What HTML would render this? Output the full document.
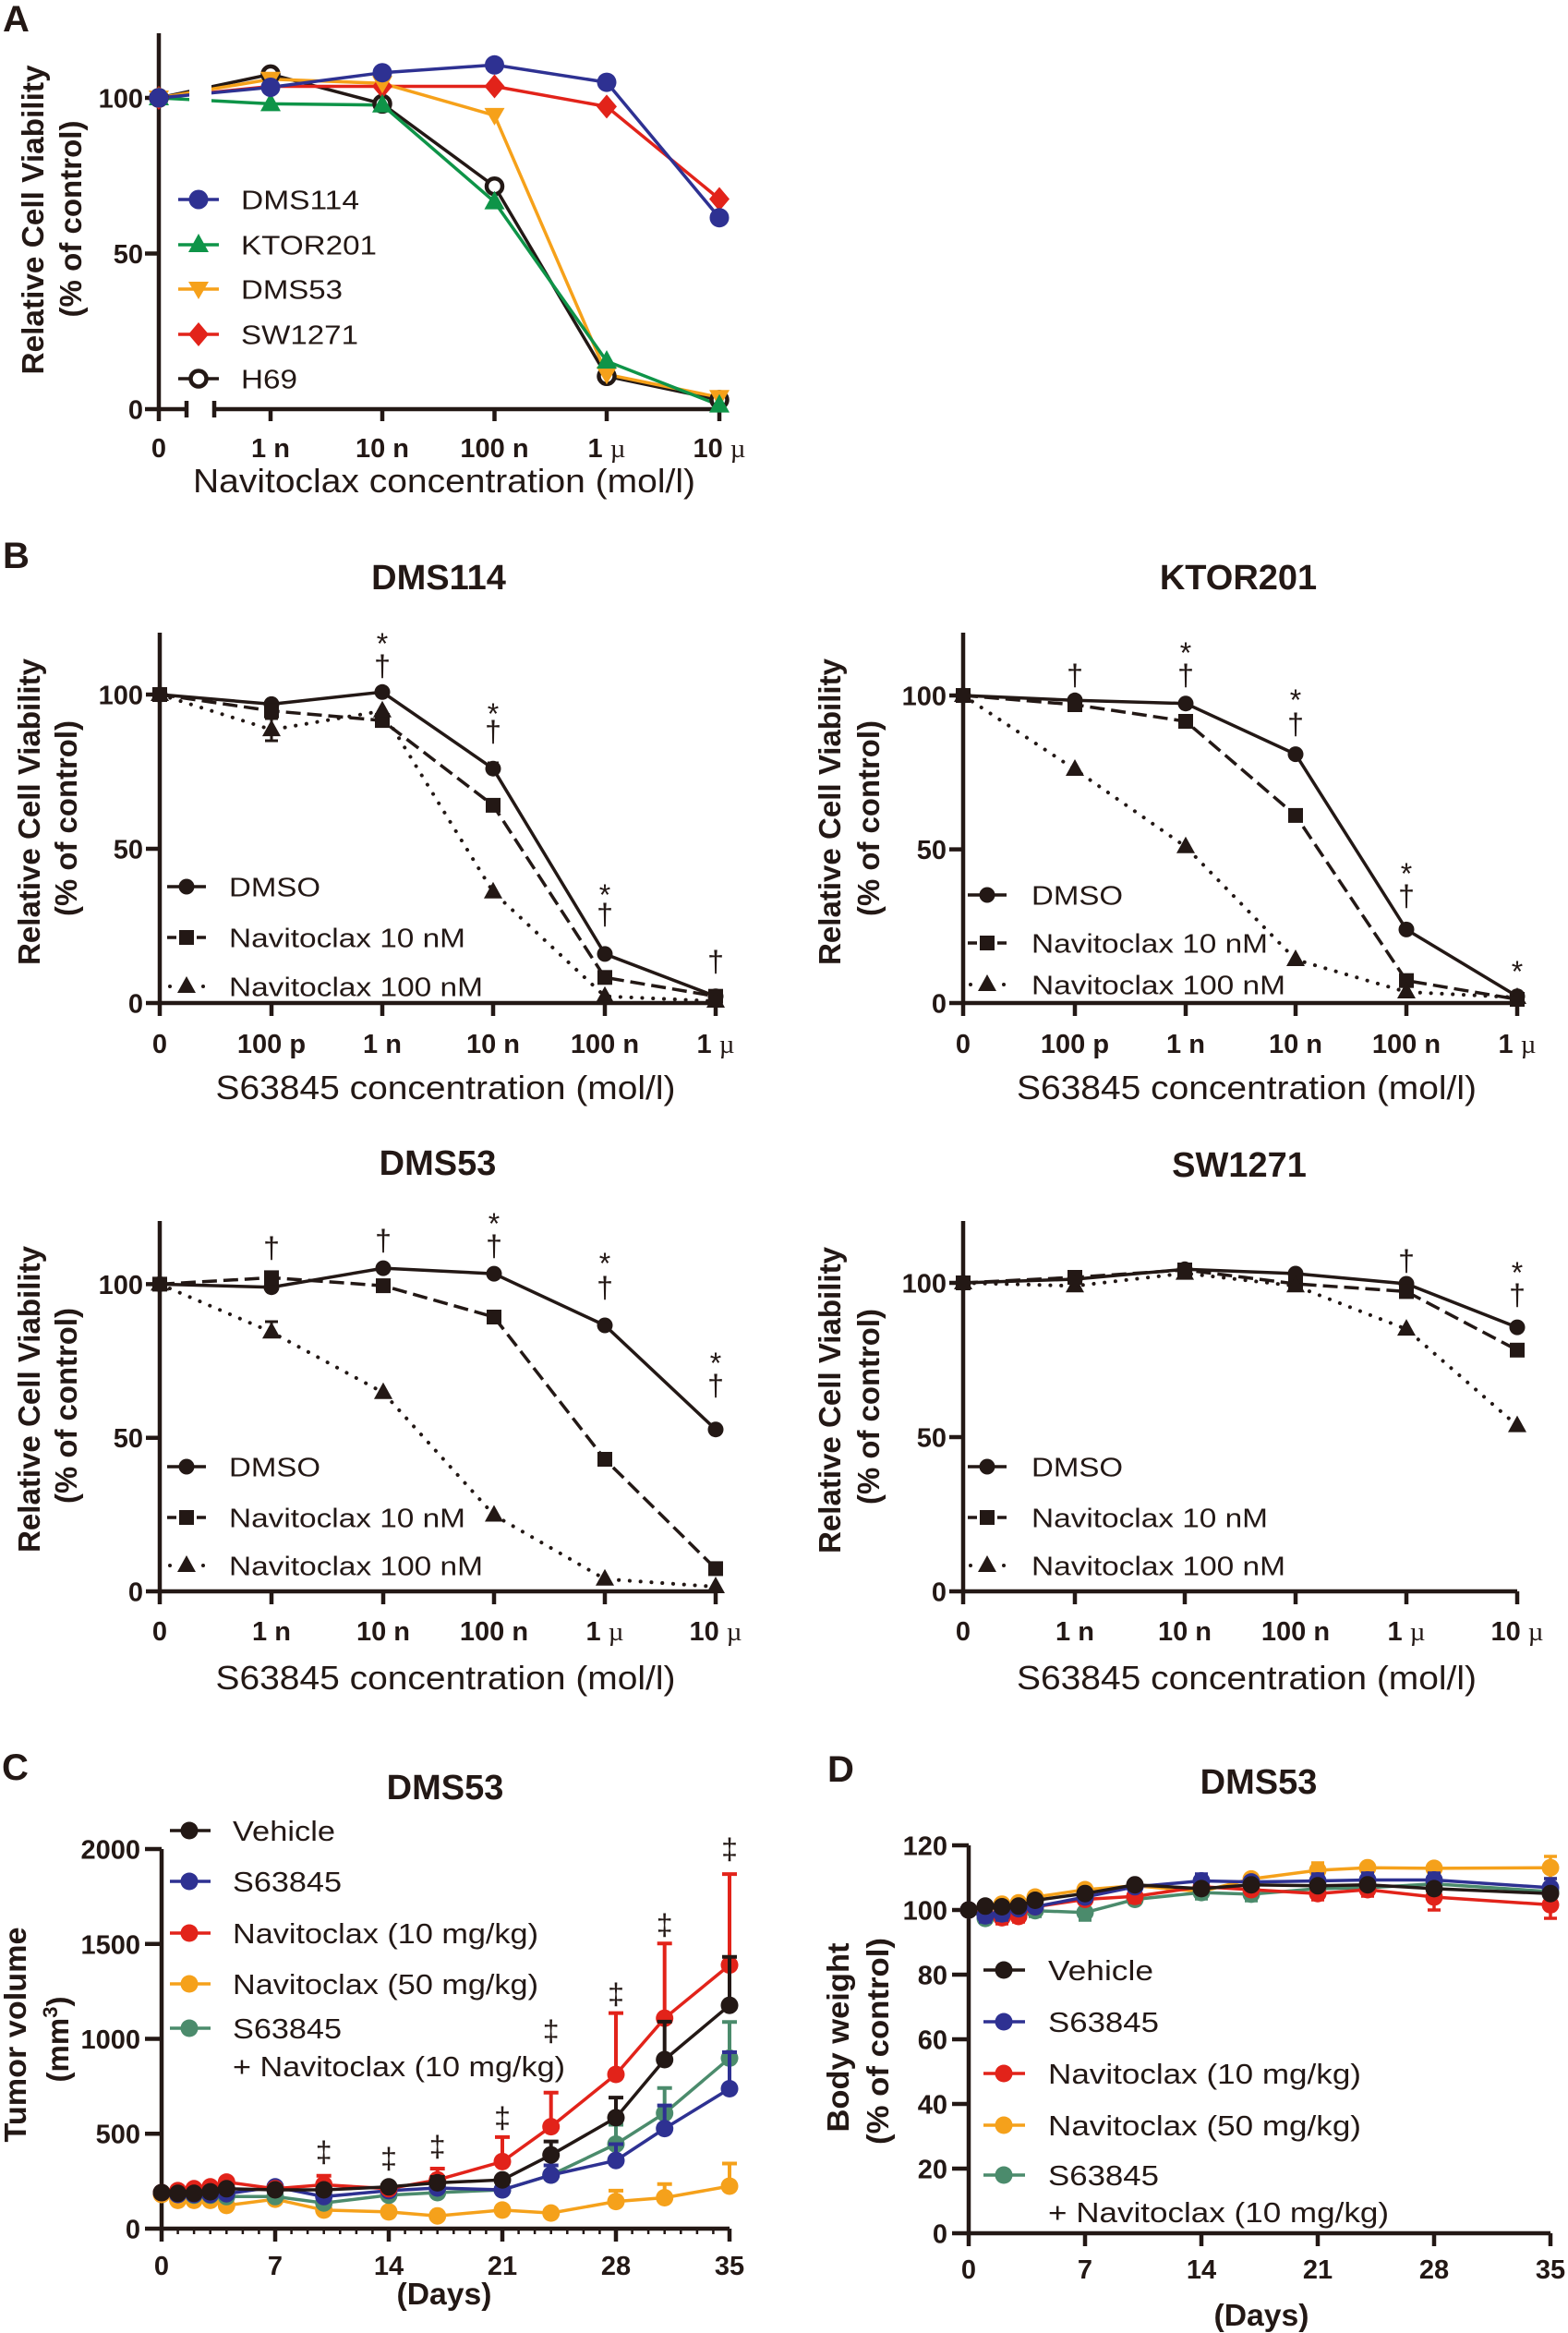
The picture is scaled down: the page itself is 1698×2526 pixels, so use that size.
<!DOCTYPE html>
<html><head><meta charset="utf-8">
<style>
html,body{margin:0;padding:0;background:#fff}
svg{display:block}
text{font-family:"Liberation Sans",Arial,sans-serif;fill:#231815}
.b{font-weight:bold}
.tk{font-size:29px;font-weight:bold}
.mu{font-family:"Liberation Serif",serif;font-weight:normal}
.ax{stroke:#231815;stroke-width:4.5;fill:none}
.mn{stroke:#231815;stroke-width:2.5;fill:none}
.ttl{font-size:38px;font-weight:bold}
.xt{font-size:36px}
.yl{font-size:33px;font-weight:bold}
.ann{font-size:32px}
</style></head><body>
<svg width="1698" height="2526" viewBox="0 0 1698 2526" xmlns="http://www.w3.org/2000/svg">
<defs>
<circle id="aB" r="10.5" fill="#2e3192"/>
<polygon id="aG" points="0,-12 11,8 -11,8" fill="#0e9448"/>
<polygon id="aY" points="0,11 -11,-8 11,-8" fill="#f6a11a"/>
<polygon id="aR" points="0,-13 11,0 0,13 -11,0" fill="#e2231a"/>
<circle id="aK" r="8.5" fill="#fff" stroke="#231815" stroke-width="4.5"/>
<circle id="bc" r="8.5" fill="#231815"/>
<rect id="bs" x="-8" y="-8" width="16" height="16" fill="#231815"/>
<polygon id="bt" points="0,-11 10,7 -10,7" fill="#231815"/>
<circle id="ck" r="9.5" fill="#231815"/>
<circle id="cb" r="9.5" fill="#2e3192"/>
<circle id="cr" r="9.5" fill="#e2231a"/>
<circle id="co" r="9.5" fill="#f5a11b"/>
<circle id="cg" r="9.5" fill="#4b8b6c"/>
</defs>
<rect width="1698" height="2526" fill="#fff"/>

<!-- ================= PANEL A ================= -->
<text x="3" y="34" class="b" font-size="40">A</text>
<path class="ax" d="M172,36V456 M157,106H172 M157,274.5H172 M157,443H202 M202,434V452 M232,434V452 M232,443H779 M293,443V456 M414,443V456 M535.5,443V456 M657,443V456 M779,443V456"/>
<g class="tk" text-anchor="end">
<text x="155" y="116.5">100</text><text x="155" y="285">50</text><text x="155" y="453.5">0</text>
</g>
<g class="tk" text-anchor="middle">
<text x="172" y="495">0</text>
<text x="293" y="495">1 n</text>
<text x="414" y="495">10 n</text>
<text x="535.5" y="495">100 n</text>
<text x="657" y="495">1 <tspan class="mu">µ</tspan></text>
<text x="779" y="495">10 <tspan class="mu">µ</tspan></text>
</g>
<text x="481" y="533" class="xt" text-anchor="middle" textLength="544" lengthAdjust="spacingAndGlyphs">Navitoclax concentration (mol/l)</text>
<text transform="translate(47,238) rotate(-90)" class="yl" text-anchor="middle" textLength="335" lengthAdjust="spacingAndGlyphs">Relative Cell Viability</text>
<text transform="translate(88,237) rotate(-90)" class="yl" text-anchor="middle" textLength="213" lengthAdjust="spacingAndGlyphs">(% of control)</text>
<g fill="none" stroke-width="3.5">
<polyline stroke="#231815" points="172,106 293,80.4 414,112.4 535.5,201.7 657,407.3 779,432.9"/>
<polyline stroke="#e2231a" points="172,106 293,93.5 414,93.5 535.5,93.5 657,115.4 779,215.5"/>
<polyline stroke="#f6a11a" points="172,106 293,85.8 414,90.2 535.5,124.9 657,405.3 779,430.2"/>
<polyline stroke="#0e9448" points="172,106 293,112.4 414,113.7 535.5,218.6 657,391.1 779,438.6"/>
<polyline stroke="#2e3192" points="172,106 293,94.5 414,78.7 535.5,70.3 657,89.1 779,235.7"/>
</g>
<rect x="205" y="40" width="24" height="395" fill="#fff"/>
<use href="#aK" x="172" y="106"/><use href="#aK" x="293" y="80.4"/><use href="#aK" x="414" y="112.4"/><use href="#aK" x="535.5" y="201.7"/><use href="#aK" x="657" y="407.3"/><use href="#aK" x="779" y="432.9"/>
<use href="#aR" x="172" y="106"/><use href="#aR" x="293" y="93.5"/><use href="#aR" x="414" y="93.5"/><use href="#aR" x="535.5" y="93.5"/><use href="#aR" x="657" y="115.4"/><use href="#aR" x="779" y="215.5"/>
<use href="#aY" x="172" y="106"/><use href="#aY" x="293" y="85.8"/><use href="#aY" x="414" y="90.2"/><use href="#aY" x="535.5" y="124.9"/><use href="#aY" x="657" y="405.3"/><use href="#aY" x="779" y="430.2"/>
<use href="#aG" x="172" y="106"/><use href="#aG" x="293" y="112.4"/><use href="#aG" x="414" y="113.7"/><use href="#aG" x="535.5" y="218.6"/><use href="#aG" x="657" y="391.1"/><use href="#aG" x="779" y="438.6"/>
<use href="#aB" x="172" y="106"/><use href="#aB" x="293" y="94.5"/><use href="#aB" x="414" y="78.7"/><use href="#aB" x="535.5" y="70.3"/><use href="#aB" x="657" y="89.1"/><use href="#aB" x="779" y="235.7"/>
<!-- legend A -->
<g stroke-width="3.5">
<line x1="193" y1="216" x2="237" y2="216" stroke="#2e3192"/>
<line x1="193" y1="265" x2="237" y2="265" stroke="#0e9448"/>
<line x1="193" y1="313" x2="237" y2="313" stroke="#f6a11a"/>
<line x1="193" y1="362" x2="237" y2="362" stroke="#e2231a"/>
<line x1="193" y1="410" x2="237" y2="410" stroke="#231815"/>
</g>
<use href="#aB" x="215" y="216"/><use href="#aG" x="215" y="265"/><use href="#aY" x="215" y="313"/><use href="#aR" x="215" y="362"/><use href="#aK" x="215" y="410"/>
<g font-size="29">
<text x="261" y="226.5" textLength="128" lengthAdjust="spacingAndGlyphs">DMS114</text>
<text x="261" y="275.5" textLength="147" lengthAdjust="spacingAndGlyphs">KTOR201</text>
<text x="261" y="323.5" textLength="110" lengthAdjust="spacingAndGlyphs">DMS53</text>
<text x="261" y="372.5" textLength="127" lengthAdjust="spacingAndGlyphs">SW1271</text>
<text x="261" y="420.5" textLength="61" lengthAdjust="spacingAndGlyphs">H69</text>
</g>

<!-- ================= PANEL B ================= -->
<text x="3" y="615" class="b" font-size="40">B</text>

<!-- B1 DMS114 -->
<text x="475" y="638" class="ttl" text-anchor="middle">DMS114</text>
<path class="ax" d="M173,685V1100 M158,752H173 M158,919H173 M158,1086H775 M294,1086V1100 M414,1086V1100 M534,1086V1100 M655,1086V1100 M775,1086V1100"/>
<g class="tk" text-anchor="end"><text x="155" y="762.5">100</text><text x="155" y="929.5">50</text><text x="155" y="1096.5">0</text></g>
<g class="tk" text-anchor="middle">
<text x="173" y="1140">0</text><text x="294" y="1140">100 p</text><text x="414" y="1140">1 n</text><text x="534" y="1140">10 n</text><text x="655" y="1140">100 n</text><text x="775" y="1140">1 <tspan class="mu">µ</tspan></text>
</g>
<text x="482.5" y="1190" class="xt" text-anchor="middle" textLength="498" lengthAdjust="spacingAndGlyphs">S63845 concentration (mol/l)</text>
<text transform="translate(43,879) rotate(-90)" class="yl" text-anchor="middle" textLength="332" lengthAdjust="spacingAndGlyphs">Relative Cell Viability</text>
<text transform="translate(83,886) rotate(-90)" class="yl" text-anchor="middle" textLength="212" lengthAdjust="spacingAndGlyphs">(% of control)</text>
<g fill="none" stroke="#231815">
<polyline stroke-width="3.5" points="173,752 294,762.4 414,749.3 534,832.2 655,1032.9 775,1078.7"/>
<polyline stroke-width="3.5" stroke-dasharray="16 7" points="173,752 294,769.7 414,780.1 534,871.9 655,1058.3 775,1078.7"/>
<polyline stroke-width="4" stroke-dasharray="0.1 11.7" stroke-linecap="round" points="173,752 294,790.1 414,769.7 534,965.8 655,1078.7 775,1084"/>
<path stroke-width="3" d="M294,778V802 M287,778H301 M287,802H301 M534,826V838 M528,826H540"/>
</g>
<use href="#bc" x="173" y="752"/><use href="#bc" x="294" y="762.4"/><use href="#bc" x="414" y="749.3"/><use href="#bc" x="534" y="832.2"/><use href="#bc" x="655" y="1032.9"/><use href="#bc" x="775" y="1078.7"/>
<use href="#bs" x="173" y="752"/><use href="#bs" x="294" y="769.7"/><use href="#bs" x="414" y="780.1"/><use href="#bs" x="534" y="871.9"/><use href="#bs" x="655" y="1058.3"/><use href="#bs" x="775" y="1078.7"/>
<use href="#bt" x="173" y="752"/><use href="#bt" x="294" y="790.1"/><use href="#bt" x="414" y="769.7"/><use href="#bt" x="534" y="965.8"/><use href="#bt" x="655" y="1078.7"/><use href="#bt" x="775" y="1084"/>
<g class="ann" text-anchor="middle">
<text x="414" y="708">*</text><text x="414" y="732">†</text>
<text x="534" y="784">*</text><text x="534" y="803">†</text>
<text x="655" y="980">*</text><text x="655" y="1001">†</text>
<text x="775" y="1052">†</text>
</g>
<g stroke="#231815" stroke-width="3.5" fill="#231815">
<line x1="181" y1="960" x2="223" y2="960"/>
<line x1="181" y1="1015" x2="191" y2="1015"/><line x1="213" y1="1015" x2="223" y2="1015"/>
<circle cx="184" cy="1068" r="2" stroke="none"/><circle cx="220" cy="1068" r="2" stroke="none"/>
</g>
<use href="#bc" x="202" y="960"/><use href="#bs" x="202" y="1015"/><use href="#bt" x="202" y="1068"/>
<g font-size="29">
<text x="248" y="970.5" textLength="99" lengthAdjust="spacingAndGlyphs">DMSO</text>
<text x="248" y="1025.5" textLength="256" lengthAdjust="spacingAndGlyphs">Navitoclax 10 nM</text>
<text x="248" y="1078.5" textLength="275" lengthAdjust="spacingAndGlyphs">Navitoclax 100 nM</text>
</g>

<!-- B2 KTOR201 -->
<text x="1341" y="638" class="ttl" text-anchor="middle">KTOR201</text>
<path class="ax" d="M1043,685V1100 M1028,753H1043 M1028,919.6H1043 M1028,1086H1643 M1164,1086V1100 M1284,1086V1100 M1403,1086V1100 M1523,1086V1100 M1643,1086V1100"/>
<g class="tk" text-anchor="end"><text x="1025" y="763.5">100</text><text x="1025" y="930">50</text><text x="1025" y="1096.5">0</text></g>
<g class="tk" text-anchor="middle">
<text x="1043" y="1140">0</text><text x="1164" y="1140">100 p</text><text x="1284" y="1140">1 n</text><text x="1403" y="1140">10 n</text><text x="1523" y="1140">100 n</text><text x="1643" y="1140">1 <tspan class="mu">µ</tspan></text>
</g>
<text x="1350" y="1190" class="xt" text-anchor="middle" textLength="498" lengthAdjust="spacingAndGlyphs">S63845 concentration (mol/l)</text>
<text transform="translate(910,879) rotate(-90)" class="yl" text-anchor="middle" textLength="332" lengthAdjust="spacingAndGlyphs">Relative Cell Viability</text>
<text transform="translate(952,886) rotate(-90)" class="yl" text-anchor="middle" textLength="212" lengthAdjust="spacingAndGlyphs">(% of control)</text>
<g fill="none" stroke="#231815">
<polyline stroke-width="3.5" points="1043,753 1164,758.3 1284,761.7 1403,816.6 1523,1006.4 1643,1078.7"/>
<polyline stroke-width="3.5" stroke-dasharray="16 7" points="1043,753 1164,763 1284,781 1403,882.9 1523,1061.7 1643,1082"/>
<polyline stroke-width="4" stroke-dasharray="0.1 11.7" stroke-linecap="round" points="1043,753 1164,833 1284,916.8 1403,1039 1523,1074 1643,1080"/>
</g>
<use href="#bc" x="1043" y="753"/><use href="#bc" x="1164" y="758.3"/><use href="#bc" x="1284" y="761.7"/><use href="#bc" x="1403" y="816.6"/><use href="#bc" x="1523" y="1006.4"/><use href="#bc" x="1643" y="1078.7"/>
<use href="#bs" x="1043" y="753"/><use href="#bs" x="1164" y="763"/><use href="#bs" x="1284" y="781"/><use href="#bs" x="1403" y="882.9"/><use href="#bs" x="1523" y="1061.7"/><use href="#bs" x="1643" y="1082"/>
<use href="#bt" x="1043" y="753"/><use href="#bt" x="1164" y="833"/><use href="#bt" x="1284" y="916.8"/><use href="#bt" x="1403" y="1039"/><use href="#bt" x="1523" y="1074"/><use href="#bt" x="1643" y="1080"/>
<g class="ann" text-anchor="middle">
<text x="1164" y="742">†</text>
<text x="1284" y="718">*</text><text x="1284" y="742">†</text>
<text x="1403" y="769">*</text><text x="1403" y="795">†</text>
<text x="1523" y="957">*</text><text x="1523" y="981">†</text>
<text x="1643" y="1063">*</text>
</g>
<g stroke="#231815" stroke-width="3.5" fill="#231815">
<line x1="1048" y1="969" x2="1090" y2="969"/>
<line x1="1048" y1="1021" x2="1058" y2="1021"/><line x1="1080" y1="1021" x2="1090" y2="1021"/>
<circle cx="1051" cy="1066" r="2" stroke="none"/><circle cx="1087" cy="1066" r="2" stroke="none"/>
</g>
<use href="#bc" x="1069" y="969"/><use href="#bs" x="1069" y="1021"/><use href="#bt" x="1069" y="1066"/>
<g font-size="29">
<text x="1117" y="979.5" textLength="99" lengthAdjust="spacingAndGlyphs">DMSO</text>
<text x="1117" y="1031.5" textLength="256" lengthAdjust="spacingAndGlyphs">Navitoclax 10 nM</text>
<text x="1117" y="1076.5" textLength="275" lengthAdjust="spacingAndGlyphs">Navitoclax 100 nM</text>
</g>

<!-- B3 DMS53 -->
<text x="474" y="1272" class="ttl" text-anchor="middle">DMS53</text>
<path class="ax" d="M173,1322V1737 M158,1390.4H173 M158,1556.7H173 M158,1723H775 M294,1723V1737 M415,1723V1737 M535,1723V1737 M655,1723V1737 M775,1723V1737"/>
<g class="tk" text-anchor="end"><text x="155" y="1401">100</text><text x="155" y="1567">50</text><text x="155" y="1733.5">0</text></g>
<g class="tk" text-anchor="middle">
<text x="173" y="1776">0</text><text x="294" y="1776">1 n</text><text x="415" y="1776">10 n</text><text x="535" y="1776">100 n</text><text x="655" y="1776">1 <tspan class="mu">µ</tspan></text><text x="775" y="1776">10 <tspan class="mu">µ</tspan></text>
</g>
<text x="482.5" y="1829" class="xt" text-anchor="middle" textLength="498" lengthAdjust="spacingAndGlyphs">S63845 concentration (mol/l)</text>
<text transform="translate(43,1515) rotate(-90)" class="yl" text-anchor="middle" textLength="332" lengthAdjust="spacingAndGlyphs">Relative Cell Viability</text>
<text transform="translate(83,1522) rotate(-90)" class="yl" text-anchor="middle" textLength="212" lengthAdjust="spacingAndGlyphs">(% of control)</text>
<g fill="none" stroke="#231815">
<polyline stroke-width="3.5" points="173,1390.4 294,1393.7 415,1373.1 535,1379.1 655,1435 775,1547.7"/>
<polyline stroke-width="3.5" stroke-dasharray="16 7" points="173,1390.4 294,1383.4 415,1392.1 535,1426 655,1580 775,1698.4"/>
<polyline stroke-width="4" stroke-dasharray="0.1 11.7" stroke-linecap="round" points="173,1390.4 294,1442.3 415,1507.8 535,1640.5 655,1709.7 775,1718"/>
<path stroke-width="3" d="M294,1431V1445 M287,1431H301"/>
</g>
<use href="#bc" x="173" y="1390.4"/><use href="#bc" x="294" y="1393.7"/><use href="#bc" x="415" y="1373.1"/><use href="#bc" x="535" y="1379.1"/><use href="#bc" x="655" y="1435"/><use href="#bc" x="775" y="1547.7"/>
<use href="#bs" x="173" y="1390.4"/><use href="#bs" x="294" y="1383.4"/><use href="#bs" x="415" y="1392.1"/><use href="#bs" x="535" y="1426"/><use href="#bs" x="655" y="1580"/><use href="#bs" x="775" y="1698.4"/>
<use href="#bt" x="173" y="1390.4"/><use href="#bt" x="294" y="1442.3"/><use href="#bt" x="415" y="1507.8"/><use href="#bt" x="535" y="1640.5"/><use href="#bt" x="655" y="1709.7"/><use href="#bt" x="775" y="1718"/>
<g class="ann" text-anchor="middle">
<text x="294" y="1362">†</text>
<text x="415" y="1354">†</text>
<text x="535" y="1336">*</text><text x="535" y="1360">†</text>
<text x="655" y="1379">*</text><text x="655" y="1405">†</text>
<text x="775" y="1487">*</text><text x="775" y="1511">†</text>
</g>
<g stroke="#231815" stroke-width="3.5" fill="#231815">
<line x1="181" y1="1588" x2="223" y2="1588"/>
<line x1="181" y1="1643" x2="191" y2="1643"/><line x1="213" y1="1643" x2="223" y2="1643"/>
<circle cx="184" cy="1695" r="2" stroke="none"/><circle cx="220" cy="1695" r="2" stroke="none"/>
</g>
<use href="#bc" x="202" y="1588"/><use href="#bs" x="202" y="1643"/><use href="#bt" x="202" y="1695"/>
<g font-size="29">
<text x="248" y="1598.5" textLength="99" lengthAdjust="spacingAndGlyphs">DMSO</text>
<text x="248" y="1653.5" textLength="256" lengthAdjust="spacingAndGlyphs">Navitoclax 10 nM</text>
<text x="248" y="1705.5" textLength="275" lengthAdjust="spacingAndGlyphs">Navitoclax 100 nM</text>
</g>

<!-- B4 SW1271 -->
<text x="1342" y="1274" class="ttl" text-anchor="middle">SW1271</text>
<path class="ax" d="M1043,1322V1737 M1028,1389H1043 M1028,1556H1043 M1028,1723H1643 M1164,1723V1737 M1283,1723V1737 M1403,1723V1737 M1523,1723V1737 M1643,1723V1737"/>
<g class="tk" text-anchor="end"><text x="1025" y="1399.5">100</text><text x="1025" y="1566.5">50</text><text x="1025" y="1733.5">0</text></g>
<g class="tk" text-anchor="middle">
<text x="1043" y="1776">0</text><text x="1164" y="1776">1 n</text><text x="1283" y="1776">10 n</text><text x="1403" y="1776">100 n</text><text x="1523" y="1776">1 <tspan class="mu">µ</tspan></text><text x="1643" y="1776">10 <tspan class="mu">µ</tspan></text>
</g>
<text x="1350" y="1829" class="xt" text-anchor="middle" textLength="498" lengthAdjust="spacingAndGlyphs">S63845 concentration (mol/l)</text>
<text transform="translate(910,1516) rotate(-90)" class="yl" text-anchor="middle" textLength="332" lengthAdjust="spacingAndGlyphs">Relative Cell Viability</text>
<text transform="translate(952,1523) rotate(-90)" class="yl" text-anchor="middle" textLength="212" lengthAdjust="spacingAndGlyphs">(% of control)</text>
<g fill="none" stroke="#231815">
<polyline stroke-width="3.5" points="1043,1389 1164,1385 1283,1374.3 1403,1379 1523,1390 1643,1437.1"/>
<polyline stroke-width="3.5" stroke-dasharray="16 7" points="1043,1389 1164,1383 1283,1375 1403,1390 1523,1398.4 1643,1461.8"/>
<polyline stroke-width="4" stroke-dasharray="0.1 11.7" stroke-linecap="round" points="1043,1389 1164,1392.3 1283,1378.6 1403,1392.3 1523,1439.1 1643,1543.6"/>
</g>
<use href="#bc" x="1043" y="1389"/><use href="#bc" x="1164" y="1385"/><use href="#bc" x="1283" y="1374.3"/><use href="#bc" x="1403" y="1379"/><use href="#bc" x="1523" y="1390"/><use href="#bc" x="1643" y="1437.1"/>
<use href="#bs" x="1043" y="1389"/><use href="#bs" x="1164" y="1383"/><use href="#bs" x="1283" y="1375"/><use href="#bs" x="1403" y="1390"/><use href="#bs" x="1523" y="1398.4"/><use href="#bs" x="1643" y="1461.8"/>
<use href="#bt" x="1043" y="1389"/><use href="#bt" x="1164" y="1392.3"/><use href="#bt" x="1283" y="1378.6"/><use href="#bt" x="1403" y="1392.3"/><use href="#bt" x="1523" y="1439.1"/><use href="#bt" x="1643" y="1543.6"/>
<g class="ann" text-anchor="middle">
<text x="1523" y="1376">†</text>
<text x="1643" y="1389">*</text><text x="1643" y="1413">†</text>
</g>
<g stroke="#231815" stroke-width="3.5" fill="#231815">
<line x1="1048" y1="1588" x2="1090" y2="1588"/>
<line x1="1048" y1="1643" x2="1058" y2="1643"/><line x1="1080" y1="1643" x2="1090" y2="1643"/>
<circle cx="1051" cy="1695" r="2" stroke="none"/><circle cx="1087" cy="1695" r="2" stroke="none"/>
</g>
<use href="#bc" x="1069" y="1588"/><use href="#bs" x="1069" y="1643"/><use href="#bt" x="1069" y="1695"/>
<g font-size="29">
<text x="1117" y="1598.5" textLength="99" lengthAdjust="spacingAndGlyphs">DMSO</text>
<text x="1117" y="1653.5" textLength="256" lengthAdjust="spacingAndGlyphs">Navitoclax 10 nM</text>
<text x="1117" y="1705.5" textLength="275" lengthAdjust="spacingAndGlyphs">Navitoclax 100 nM</text>
</g>

<!-- ================= PANEL C ================= -->
<text x="2" y="1927" class="b" font-size="40">C</text>
<text x="482" y="1948" class="ttl" text-anchor="middle">DMS53</text>
<path class="ax" d="M175,2002V2427 M157,2002H175 M157,2104.8H175 M157,2207.5H175 M157,2310.2H175 M157,2413H790 M298,2413V2427 M421,2413V2427 M544,2413V2427 M667,2413V2427 M790,2413V2427"/>
<path class="mn" d="M192.6,2413v6 M210.1,2413v6 M227.7,2413v6 M245.3,2413v6 M262.9,2413v6 M280.4,2413v6 M315.6,2413v6 M333.1,2413v6 M350.7,2413v6 M368.3,2413v6 M385.9,2413v6 M403.4,2413v6 M438.6,2413v6 M456.1,2413v6 M473.7,2413v6 M491.3,2413v6 M508.9,2413v6 M526.4,2413v6 M561.6,2413v6 M579.1,2413v6 M596.7,2413v6 M614.3,2413v6 M631.9,2413v6 M649.4,2413v6 M684.6,2413v6 M702.1,2413v6 M719.7,2413v6 M737.3,2413v6 M754.9,2413v6 M772.4,2413v6"/>
<g class="tk" text-anchor="end">
<text x="152" y="2012.5">2000</text><text x="152" y="2115.3">1500</text><text x="152" y="2218">1000</text><text x="152" y="2320.7">500</text><text x="152" y="2423.5">0</text>
</g>
<g class="tk" text-anchor="middle">
<text x="175" y="2463">0</text><text x="298" y="2463">7</text><text x="421" y="2463">14</text><text x="544" y="2463">21</text><text x="667" y="2463">28</text><text x="790" y="2463">35</text>
</g>
<text x="481" y="2495" class="b" font-size="33" text-anchor="middle" textLength="103" lengthAdjust="spacingAndGlyphs">(Days)</text>
<text transform="translate(28,2203) rotate(-90)" class="yl" text-anchor="middle" textLength="233" lengthAdjust="spacingAndGlyphs">Tumor volume</text>
<text transform="translate(74,2208) rotate(-90)" class="yl" text-anchor="middle">(mm<tspan baseline-shift="super" font-size="22">3</tspan>)</text>
<!-- orange -->
<g fill="none" stroke="#f5a11b" stroke-width="3.5">
<polyline points="175,2376 192.6,2382.4 210.1,2382.4 227.7,2382.4 245.3,2387.9 298,2381.1 350.7,2392.9 421,2394.9 473.7,2399.2 544,2392.9 596.7,2396.1 667,2383.6 719.7,2379.5 790,2367"/>
<path stroke-width="4" d="M667,2383.6V2371.9 M659,2371.9H675 M719.7,2379.5V2364.7 M711.7,2364.7H727.7 M790,2367V2342.5 M782,2342.5H798"/>
</g>
<use href="#co" x="175" y="2376"/><use href="#co" x="192.6" y="2382.4"/><use href="#co" x="210.1" y="2382.4"/><use href="#co" x="227.7" y="2382.4"/><use href="#co" x="245.3" y="2387.9"/><use href="#co" x="298" y="2381.1"/><use href="#co" x="350.7" y="2392.9"/><use href="#co" x="421" y="2394.9"/><use href="#co" x="473.7" y="2399.2"/><use href="#co" x="544" y="2392.9"/><use href="#co" x="596.7" y="2396.1"/><use href="#co" x="667" y="2383.6"/><use href="#co" x="719.7" y="2379.5"/><use href="#co" x="790" y="2367"/>
<!-- green -->
<g fill="none" stroke="#4b8b6c" stroke-width="3.5">
<polyline points="175,2374 192.6,2376 210.1,2376.8 227.7,2376.8 245.3,2378.3 298,2378.3 350.7,2385.2 421,2376.8 473.7,2374 544,2371 596.7,2355 667,2321.5 719.7,2288 790,2228.4"/>
<path stroke-width="4" d="M667,2321.5V2300.5 M659,2300.5H675 M719.7,2288V2260.7 M711.7,2260.7H727.7 M790,2228.4V2189.3 M782,2189.3H798"/>
</g>
<use href="#cg" x="175" y="2374"/><use href="#cg" x="192.6" y="2376"/><use href="#cg" x="210.1" y="2376.8"/><use href="#cg" x="227.7" y="2376.8"/><use href="#cg" x="245.3" y="2378.3"/><use href="#cg" x="298" y="2378.3"/><use href="#cg" x="350.7" y="2385.2"/><use href="#cg" x="421" y="2376.8"/><use href="#cg" x="473.7" y="2374"/><use href="#cg" x="544" y="2371"/><use href="#cg" x="596.7" y="2355"/><use href="#cg" x="667" y="2321.5"/><use href="#cg" x="719.7" y="2288"/><use href="#cg" x="790" y="2228.4"/>
<!-- blue -->
<g fill="none" stroke="#2e3192" stroke-width="3.5">
<polyline points="175,2374 192.6,2376 210.1,2376 227.7,2376 245.3,2375.2 298,2367.8 350.7,2378.3 421,2371.9 473.7,2369 544,2371 596.7,2355 667,2339.2 719.7,2304.6 790,2261.5"/>
<path stroke-width="4" d="M596.7,2355V2344.5 M588.7,2344.5H604.7 M667,2339.2V2321.5 M659,2321.5H675 M719.7,2304.6V2279.6 M711.7,2279.6H727.7 M790,2261.5V2222 M782,2222H798"/>
</g>
<use href="#cb" x="175" y="2374"/><use href="#cb" x="192.6" y="2376"/><use href="#cb" x="210.1" y="2376"/><use href="#cb" x="227.7" y="2376"/><use href="#cb" x="245.3" y="2375.2"/><use href="#cb" x="298" y="2367.8"/><use href="#cb" x="350.7" y="2378.3"/><use href="#cb" x="421" y="2371.9"/><use href="#cb" x="473.7" y="2369"/><use href="#cb" x="544" y="2371"/><use href="#cb" x="596.7" y="2355"/><use href="#cb" x="667" y="2339.2"/><use href="#cb" x="719.7" y="2304.6"/><use href="#cb" x="790" y="2261.5"/>
<!-- red -->
<g fill="none" stroke="#e2231a" stroke-width="3.5">
<polyline points="175,2374 192.6,2371.9 210.1,2369.8 227.7,2367.8 245.3,2362.6 298,2369.8 350.7,2365.5 421,2369.8 473.7,2360.2 544,2340.4 596.7,2302.6 667,2246 719.7,2185.2 790,2127.6"/>
<path stroke-width="4" d="M350.7,2365.5V2355.8 M342.7,2355.8H358.7 M473.7,2360.2V2348 M465.7,2348H481.7 M544,2340.4V2313.9 M536,2313.9H552 M596.7,2302.6V2265.8 M588.7,2265.8H604.7 M667,2246V2179.6 M659,2179.6H675 M719.7,2185.2V2104.2 M711.7,2104.2H727.7 M790,2127.6V2029.1 M782,2029.1H798"/>
</g>
<use href="#cr" x="175" y="2374"/><use href="#cr" x="192.6" y="2371.9"/><use href="#cr" x="210.1" y="2369.8"/><use href="#cr" x="227.7" y="2367.8"/><use href="#cr" x="245.3" y="2362.6"/><use href="#cr" x="298" y="2369.8"/><use href="#cr" x="350.7" y="2365.5"/><use href="#cr" x="421" y="2369.8"/><use href="#cr" x="473.7" y="2360.2"/><use href="#cr" x="544" y="2340.4"/><use href="#cr" x="596.7" y="2302.6"/><use href="#cr" x="667" y="2246"/><use href="#cr" x="719.7" y="2185.2"/><use href="#cr" x="790" y="2127.6"/>
<!-- black -->
<g fill="none" stroke="#231815" stroke-width="3.5">
<polyline points="175,2374 192.6,2374.8 210.1,2374.8 227.7,2373.1 245.3,2369.8 298,2371 350.7,2371 421,2367.8 473.7,2363.4 544,2360.2 596.7,2333.2 667,2292.9 719.7,2230 790,2171.2"/>
<path stroke-width="4" d="M473.7,2363.4V2357 M465.7,2357H481.7 M596.7,2333.2V2318.6 M588.7,2318.6H604.7 M667,2292.9V2271.1 M659,2271.1H675 M719.7,2230V2188.9 M711.7,2188.9H727.7 M790,2171.2V2118.8 M782,2118.8H798"/>
</g>
<use href="#ck" x="175" y="2374"/><use href="#ck" x="192.6" y="2374.8"/><use href="#ck" x="210.1" y="2374.8"/><use href="#ck" x="227.7" y="2373.1"/><use href="#ck" x="245.3" y="2369.8"/><use href="#ck" x="298" y="2371"/><use href="#ck" x="350.7" y="2371"/><use href="#ck" x="421" y="2367.8"/><use href="#ck" x="473.7" y="2363.4"/><use href="#ck" x="544" y="2360.2"/><use href="#ck" x="596.7" y="2333.2"/><use href="#ck" x="667" y="2292.9"/><use href="#ck" x="719.7" y="2230"/><use href="#ck" x="790" y="2171.2"/>
<g class="ann" text-anchor="middle" font-size="33">
<text x="350.7" y="2341">‡</text><text x="421" y="2348">‡</text><text x="473.7" y="2335">‡</text><text x="544" y="2304">‡</text><text x="596.7" y="2210">‡</text><text x="667" y="2170">‡</text><text x="719.7" y="2095">‡</text><text x="790" y="2013">‡</text>
</g>
<!-- legend C -->
<g stroke-width="3.5">
<line x1="184" y1="1982" x2="228" y2="1982" stroke="#231815"/>
<line x1="184" y1="2037" x2="228" y2="2037" stroke="#2e3192"/>
<line x1="184" y1="2093" x2="228" y2="2093" stroke="#e2231a"/>
<line x1="184" y1="2148" x2="228" y2="2148" stroke="#f5a11b"/>
<line x1="184" y1="2196" x2="228" y2="2196" stroke="#4b8b6c"/>
</g>
<use href="#ck" x="205" y="1982"/><use href="#cb" x="205" y="2037"/><use href="#cr" x="205" y="2093"/><use href="#co" x="205" y="2148"/><use href="#cg" x="205" y="2196"/>
<g font-size="31">
<text x="252" y="1993" textLength="111" lengthAdjust="spacingAndGlyphs">Vehicle</text>
<text x="252" y="2048" textLength="118" lengthAdjust="spacingAndGlyphs">S63845</text>
<text x="252" y="2104" textLength="331" lengthAdjust="spacingAndGlyphs">Navitoclax (10 mg/kg)</text>
<text x="252" y="2159" textLength="331" lengthAdjust="spacingAndGlyphs">Navitoclax (50 mg/kg)</text>
<text x="252" y="2207" textLength="118" lengthAdjust="spacingAndGlyphs">S63845</text>
<text x="252" y="2248" textLength="360" lengthAdjust="spacingAndGlyphs">+ Navitoclax (10 mg/kg)</text>
</g>

<!-- ================= PANEL D ================= -->
<text x="896" y="1929" class="b" font-size="40">D</text>
<text x="1363" y="1942" class="ttl" text-anchor="middle">DMS53</text>
<path class="ax" d="M1049,1998V2432 M1031,1998H1049 M1031,2068H1049 M1031,2138H1049 M1031,2208H1049 M1031,2278H1049 M1031,2348H1049 M1031,2418H1679 M1175,2418V2432 M1301,2418V2432 M1427,2418V2432 M1553,2418V2432 M1679,2418V2432"/>
<g class="tk" text-anchor="end">
<text x="1026" y="2008.5">120</text><text x="1026" y="2078.5">100</text><text x="1026" y="2148.5">80</text><text x="1026" y="2218.5">60</text><text x="1026" y="2288.5">40</text><text x="1026" y="2358.5">20</text><text x="1026" y="2428.5">0</text>
</g>
<g class="tk" text-anchor="middle">
<text x="1049" y="2467">0</text><text x="1175" y="2467">7</text><text x="1301" y="2467">14</text><text x="1427" y="2467">21</text><text x="1553" y="2467">28</text><text x="1679" y="2467">35</text>
</g>
<text x="1366" y="2518" class="b" font-size="33" text-anchor="middle" textLength="103" lengthAdjust="spacingAndGlyphs">(Days)</text>
<text transform="translate(919,2206) rotate(-90)" class="yl" text-anchor="middle" textLength="205" lengthAdjust="spacingAndGlyphs">Body weight</text>
<text transform="translate(962,2210) rotate(-90)" class="yl" text-anchor="middle" textLength="224" lengthAdjust="spacingAndGlyphs">(% of control)</text>
<!-- orange D -->
<g fill="none" stroke="#f5a11b" stroke-width="3.5">
<polyline points="1049,2068 1067,2064.5 1085,2061.7 1103,2060.3 1121,2054 1175,2046 1229,2041.8 1301,2048 1355,2034.4 1427,2025 1481,2022.2 1553,2022.9 1679,2022.2"/>
<path stroke-width="3.5" d="M1427,2017V2033 M1420,2017H1434 M1420,2033H1434 M1679,2010V2034 M1672,2010H1686 M1672,2034H1686 M1301,2041V2055 M1294,2055H1308"/>
</g>
<use href="#co" x="1049" y="2068"/><use href="#co" x="1067" y="2064.5"/><use href="#co" x="1085" y="2061.7"/><use href="#co" x="1103" y="2060.3"/><use href="#co" x="1121" y="2054"/><use href="#co" x="1175" y="2046"/><use href="#co" x="1229" y="2041.8"/><use href="#co" x="1301" y="2048"/><use href="#co" x="1355" y="2034.4"/><use href="#co" x="1427" y="2025"/><use href="#co" x="1481" y="2022.2"/><use href="#co" x="1553" y="2022.9"/><use href="#co" x="1679" y="2022.2"/>
<!-- green D -->
<g fill="none" stroke="#4b8b6c" stroke-width="3.5">
<polyline points="1049,2068 1067,2077.1 1085,2075 1103,2072.9 1121,2068.7 1175,2070.8 1229,2056.5 1301,2049.1 1355,2050.9 1427,2044.9 1481,2043.9 1553,2039.7 1679,2048.1"/>
<path d="M1175,2062V2079 M1168,2079H1182 M1301,2042V2056 M1294,2056H1308 M1355,2044V2058 M1348,2058H1362 M1121,2062V2075 M1114,2075H1128"/>
</g>
<use href="#cg" x="1049" y="2068"/><use href="#cg" x="1067" y="2077.1"/><use href="#cg" x="1085" y="2075"/><use href="#cg" x="1103" y="2072.9"/><use href="#cg" x="1121" y="2068.7"/><use href="#cg" x="1175" y="2070.8"/><use href="#cg" x="1229" y="2056.5"/><use href="#cg" x="1301" y="2049.1"/><use href="#cg" x="1355" y="2050.9"/><use href="#cg" x="1427" y="2044.9"/><use href="#cg" x="1481" y="2043.9"/><use href="#cg" x="1553" y="2039.7"/><use href="#cg" x="1679" y="2048.1"/>
<!-- red D -->
<g fill="none" stroke="#e2231a" stroke-width="3.5">
<polyline points="1049,2068 1067,2072.9 1085,2076.4 1103,2075 1121,2064.5 1175,2056.5 1229,2053.3 1301,2042.8 1355,2046 1427,2050.2 1481,2046 1553,2054 1679,2062.4"/>
<path d="M1085,2070V2083 M1078,2083H1092 M1103,2069V2081 M1096,2081H1110 M1229,2047V2060 M1222,2060H1236 M1427,2043V2057 M1420,2057H1434 M1481,2039V2053 M1474,2053H1488 M1553,2040V2068 M1546,2040H1560 M1546,2068H1560 M1679,2048V2077 M1672,2048H1686 M1672,2077H1686"/>
</g>
<use href="#cr" x="1049" y="2068"/><use href="#cr" x="1067" y="2072.9"/><use href="#cr" x="1085" y="2076.4"/><use href="#cr" x="1103" y="2075"/><use href="#cr" x="1121" y="2064.5"/><use href="#cr" x="1175" y="2056.5"/><use href="#cr" x="1229" y="2053.3"/><use href="#cr" x="1301" y="2042.8"/><use href="#cr" x="1355" y="2046"/><use href="#cr" x="1427" y="2050.2"/><use href="#cr" x="1481" y="2046"/><use href="#cr" x="1553" y="2054"/><use href="#cr" x="1679" y="2062.4"/>
<!-- blue D -->
<g fill="none" stroke="#2e3192" stroke-width="3.5">
<polyline points="1049,2068 1067,2074.3 1085,2072.2 1103,2066.6 1121,2064.5 1175,2054 1229,2042.8 1301,2036.5 1355,2037.6 1427,2036.5 1481,2035.5 1553,2035.5 1679,2043.9"/>
<path d="M1301,2029V2044 M1294,2029H1308 M1294,2044H1308 M1427,2029V2044 M1420,2029H1434 M1481,2028V2043 M1474,2028H1488 M1553,2028V2043 M1546,2028H1560 M1679,2034V2054 M1672,2034H1686 M1672,2054H1686 M1067,2068V2081 M1060,2081H1074 M1085,2066V2079 M1078,2079H1092"/>
</g>
<use href="#cb" x="1049" y="2068"/><use href="#cb" x="1067" y="2074.3"/><use href="#cb" x="1085" y="2072.2"/><use href="#cb" x="1103" y="2066.6"/><use href="#cb" x="1121" y="2064.5"/><use href="#cb" x="1175" y="2054"/><use href="#cb" x="1229" y="2042.8"/><use href="#cb" x="1301" y="2036.5"/><use href="#cb" x="1355" y="2037.6"/><use href="#cb" x="1427" y="2036.5"/><use href="#cb" x="1481" y="2035.5"/><use href="#cb" x="1553" y="2035.5"/><use href="#cb" x="1679" y="2043.9"/>
<!-- black D -->
<g fill="none" stroke="#231815" stroke-width="3.5">
<polyline points="1049,2068 1067,2063.8 1085,2064.5 1103,2063.8 1121,2057.5 1175,2050.2 1229,2040.7 1301,2044.9 1355,2040.7 1427,2041.8 1481,2040.7 1553,2044.9 1679,2050.2"/>
</g>
<use href="#ck" x="1049" y="2068"/><use href="#ck" x="1067" y="2063.8"/><use href="#ck" x="1085" y="2064.5"/><use href="#ck" x="1103" y="2063.8"/><use href="#ck" x="1121" y="2057.5"/><use href="#ck" x="1175" y="2050.2"/><use href="#ck" x="1229" y="2040.7"/><use href="#ck" x="1301" y="2044.9"/><use href="#ck" x="1355" y="2040.7"/><use href="#ck" x="1427" y="2041.8"/><use href="#ck" x="1481" y="2040.7"/><use href="#ck" x="1553" y="2044.9"/><use href="#ck" x="1679" y="2050.2"/>
<!-- legend D -->
<g stroke-width="3.5">
<line x1="1065" y1="2133" x2="1110" y2="2133" stroke="#231815"/>
<line x1="1065" y1="2189" x2="1110" y2="2189" stroke="#2e3192"/>
<line x1="1065" y1="2245" x2="1110" y2="2245" stroke="#e2231a"/>
<line x1="1065" y1="2301" x2="1110" y2="2301" stroke="#f5a11b"/>
<line x1="1065" y1="2355" x2="1110" y2="2355" stroke="#4b8b6c"/>
</g>
<use href="#ck" x="1087" y="2133"/><use href="#cb" x="1087" y="2189"/><use href="#cr" x="1087" y="2245"/><use href="#co" x="1087" y="2301"/><use href="#cg" x="1087" y="2355"/>
<g font-size="31">
<text x="1135" y="2144" textLength="114" lengthAdjust="spacingAndGlyphs">Vehicle</text>
<text x="1135" y="2200" textLength="120" lengthAdjust="spacingAndGlyphs">S63845</text>
<text x="1135" y="2256" textLength="339" lengthAdjust="spacingAndGlyphs">Navitoclax (10 mg/kg)</text>
<text x="1135" y="2312" textLength="339" lengthAdjust="spacingAndGlyphs">Navitoclax (50 mg/kg)</text>
<text x="1135" y="2366" textLength="120" lengthAdjust="spacingAndGlyphs">S63845</text>
<text x="1135" y="2406" textLength="369" lengthAdjust="spacingAndGlyphs">+ Navitoclax (10 mg/kg)</text>
</g>
</svg>
</body></html>
